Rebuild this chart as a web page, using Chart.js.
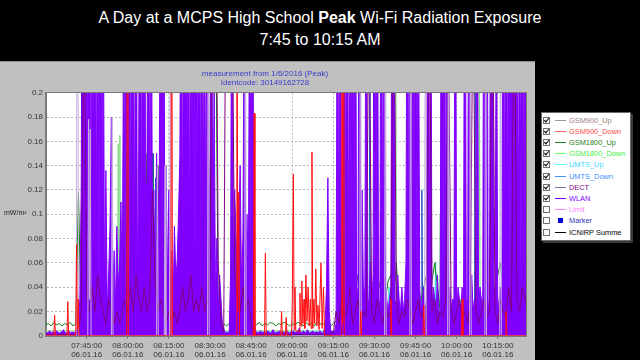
<!DOCTYPE html>
<html>
<head>
<meta charset="utf-8">
<script src="https://cdn.jsdelivr.net/npm/chart.js@4.4.1/dist/chart.umd.min.js"></script>
<style>
  body { margin: 0; width: 640px; height: 360px; background: #000; overflow: hidden; position: relative; font-family: "Liberation Sans", Arial, sans-serif; }
  .head { position: absolute; left: 0; width: 640px; text-align: center; color: #fff; font-size: 16px; line-height: 20px; }
  #panel { position: absolute; left: 0; top: 61px; width: 535px; height: 299px; background: #c0c0c0; border-top: 1px solid #8a8a8a; box-sizing: border-box; }
  #chart { position: absolute; left: 0; top: -1px; }
  #legend { position: absolute; left: 541px; top: 112px; width: 88px; height: 127px; background: #fff; border: 1px solid #6a6a6a; box-shadow: 2px 2px 0 #3a3a3a; }
  .row { position: absolute; left: 0; width: 88px; height: 11px; font-size: 7.4px; line-height: 11px; }
  .box { position: absolute; left: 1px; top: 2px; width: 5px; height: 5px; border: 1px solid #707070; background: #fff; }
  .tick { position: absolute; left: 1px; top: -1px; width: 2px; height: 4px; border-right: 1.3px solid #000; border-bottom: 1.3px solid #000; transform: rotate(40deg); }
  .swatch { position: absolute; left: 13px; top: 5px; width: 11px; height: 1px; }
  .square { position: absolute; left: 16px; top: 3px; width: 5px; height: 5px; }
  .name { position: absolute; left: 27px; top: 0; white-space: nowrap; }
</style>
</head>
<body>
<div class="head" style="top:8px">A Day at a MCPS High School <b>Peak</b> Wi-Fi Radiation Exposure</div>
<div class="head" style="top:30px">7:45 to 10:15 AM</div>
<div id="panel"><canvas id="chart" width="535" height="299"></canvas></div>
<div id="legend"></div>
<script>
// time axis in minutes after 07:30:00, 06.01.16
const dateLabel = "06.01.16";
const tickMinutes = [15, 30, 45, 60, 75, 90, 105, 120, 135, 150, 165];
const tickLabels = ["07:45:00", "08:00:00", "08:15:00", "08:30:00", "08:45:00", "09:00:00",
  "09:15:00", "09:30:00", "09:45:00", "10:00:00", "10:15:00"];
const yTickValues = [0, 0.02, 0.04, 0.06, 0.08, 0.1, 0.12, 0.14, 0.16, 0.18, 0.2];
const yTickLabels = ["0", "0.02", "0.04", "0.06", "0.08", "0.1", "0.12", "0.14", "0.16", "0.18", "0.2"];

// WLAN peak, one value every 30 s (mW/m²)
const wlanStep = 0.5;
const wlan = [
  0.003,0.002, 0.003,0.004, 0.002,0.003, 0.003,0.002, 0.004,0.003, 0.002,0.003, 0.003,0.005, 0.003,0.002, 0.003,0.004, 0.002,0.003,
  0.003,0.002, 0.004,0.003, 0.01,0.03, 0.12,0.45, 0.5,0.04, 0.6,0.08, 0.45,0.03, 0.5,0.12, 0.6,0.05, 0.4,0.02,
  0.55,0.06, 0.35,0.03, 0.136,0.02, 0.05,0.09, 0.18,0.03, 0.07,0.02, 0.09,0.04, 0.06,0.11, 0.03,0.3, 0.05,0.5,
  0.08,0.6, 0.04,0.5, 0.3,0.07, 0.5,0.03, 0.16,0.6, 0.05,0.45, 0.55,0.1, 0.13,0.5, 0.04,0.4, 0.06,0.12,
  0.03,0.15, 0.08,0.14, 0.4,0.05, 0.5,0.06, 0.14,0.04, 0.12,0.03, 0.07,0.02, 0.09,0.05, 0.06,0.1, 0.148,0.4,
  0.05,0.55, 0.6,0.08, 0.5,0.04, 0.45,0.12, 0.6,0.05, 0.4,0.09, 0.5,0.03, 0.55,0.1, 0.3,0.06, 0.45,0.04,
  0.15,0.5, 0.06,0.2, 0.03,0.08, 0.02,0.05, 0.03,0.01, 0.006,0.002, 0.003,0.002, 0.003,0.05, 0.4,0.06, 0.12,0.08,
  0.05,0.09, 0.14,0.04, 0.08,0.3, 0.06,0.1, 0.05,0.35, 0.04,0.5, 0.02,0.004, 0.003,0.002, 0.003,0.004, 0.002,0.003,
  0.003,0.002, 0.004,0.003, 0.002,0.003, 0.005,0.003, 0.002,0.003, 0.003,0.004, 0.002,0.003, 0.003,0.002, 0.004,0.003, 0.002,0.003,
  0.003,0.004, 0.002,0.003, 0.003,0.006, 0.003,0.002, 0.004,0.003, 0.002,0.005, 0.003,0.002, 0.003,0.004, 0.002,0.003, 0.003,0.002,
  0.004,0.003, 0.002,0.003, 0.01,0.04, 0.13,0.02, 0.005,0.003, 0.004,0.003, 0.01,0.4, 0.03,0.5, 0.02,0.08, 0.5,0.03,
  0.6,0.02, 0.35,0.05, 0.5,0.01, 0.45,0.03, 0.04,0.5, 0.02,0.12, 0.03,0.04, 0.4,0.02, 0.03,0.06, 0.02,0.05,
  0.5,0.03, 0.45,0.02, 0.03,0.5, 0.02,0.4, 0.04,0.03, 0.02,0.03, 0.04,0.45, 0.5,0.03, 0.02,0.05, 0.03,0.02,
  0.04,0.02, 0.03,0.06, 0.45,0.03, 0.55,0.02, 0.4,0.05, 0.5,0.02, 0.35,0.04, 0.02,0.03, 0.04,0.02, 0.03,0.45,
  0.03,0.4, 0.02,0.04, 0.03,0.02, 0.05,0.02, 0.02,0.5, 0.03,0.45, 0.02,0.4, 0.03,0.04, 0.02,0.03, 0.03,0.4,
  0.02,0.04, 0.03,0.02, 0.04,0.02, 0.5,0.03, 0.02,0.45, 0.03,0.05, 0.02,0.03, 0.03,0.4, 0.02,0.04, 0.03,0.02,
  0.45,0.03, 0.5,0.02, 0.03,0.55, 0.4,0.04, 0.03,0.3, 0.02,0.03, 0.04,0.02, 0.5,0.03, 0.55,0.06, 0.4,0.03,
  0.6,0.04, 0.45,0.02, 0.5,0.06, 0.35,0.03, 0.5,0.03, 0.4,0.04, 0.3
];

// DECT and GSM1800_Up, one value per minute
const minuteStep = 1;
const dect = [
  0.001,0.001,0.001,0.001,0.001,0.001,0.001,0.001,0.001,0.001,
  0.001,0.001,0.002,0.02,0.3,0.03,0.02,0.04,0.02,0.05,
  0.03,0.02,0.01,0.03,0.02,0.01,0.02,0.01,0.02,0.03,
  0.02,0.04,0.02,0.05,0.03,0.02,0.04,0.02,0.03,0.12,
  0.04,0.02,0.03,0.02,0.01,0.02,0.01,0.02,0.01,0.02,
  0.04,0.02,0.03,0.05,0.02,0.03,0.02,0.04,0.02,0.03,
  0.05,0.35,0.4,0.06,0.01,0.003,0.4,0.45,0.3,0.05,
  0.03,0.02,0.04,0.02,0.03,0.01,0.001,0.001,0.001,0.001,
  0.001,0.001,0.001,0.001,0.001,0.001,0.001,0.001,0.001,0.001,
  0.001,0.001,0.001,0.001,0.001,0.001,0.001,0.001,0.001,0.001,
  0.001,0.001,0.001,0.001,0.001,0.002,0.02,0.01,0.03,0.015,
  0.02,0.04,0.01,0.02,0.03,0.01,0.02,0.015,0.3,0.02,
  0.01,0.03,0.02,0.01,0.025,0.015,0.02,0.35,0.03,0.01,
  0.02,0.015,0.03,0.02,0.01,0.02,0.03,0.015,0.02,0.01,
  0.3,0.02,0.03,0.01,0.02,0.015,0.03,0.25,0.02,0.01,
  0.02,0.03,0.015,0.02,0.01,0.03,0.3,0.02,0.01,0.02,
  0.03,0.015,0.02,0.35,0.02,0.01,0.03,0.02,0.015,0.04,
  0.02,0.3,0.03,0.02,0.04,0.03,0.02
];
const gsm1800Up = [
  0.009,0.01,0.008,0.011,0.009,0.01,0.008,0.01,0.009,0.011,
  0.008,0.01,0.118,0.01,0.012,0.009,0.01,0.011,0.009,0.012,
  0.01,0.009,0.011,0.01,0.009,0.012,0.01,0.011,0.009,0.3,
  0.01,0.012,0.009,0.011,0.01,0.012,0.009,0.15,0.011,0.15,
  0.01,0.14,0.012,0.01,0.009,0.011,0.01,0.009,0.012,0.01,
  0.011,0.009,0.012,0.01,0.011,0.009,0.17,0.01,0.011,0.009,
  0.012,0.01,0.3,0.011,0.009,0.01,0.008,0.01,0.011,0.009,
  0.01,0.008,0.011,0.009,0.01,0.008,0.01,0.009,0.011,0.008,
  0.01,0.009,0.011,0.01,0.008,0.01,0.009,0.011,0.01,0.008,
  0.01,0.009,0.011,0.01,0.008,0.011,0.009,0.01,0.008,0.011,
  0.01,0.009,0.011,0.01,0.008,0.01,0.012,0.015,0.02,0.03,
  0.05,0.04,0.06,0.035,0.05,0.03,0.02,0.015,0.01,0.02,
  0.03,0.05,0.04,0.06,0.03,0.045,0.05,0.03,0.06,0.02,
  0.015,0.02,0.03,0.015,0.02,0.01,0.02,0.03,0.04,0.05,
  0.03,0.045,0.06,0.04,0.02,0.015,0.02,0.01,0.015,0.02,
  0.03,0.02,0.015,0.02,0.03,0.02,0.01,0.015,0.02,0.03,
  0.02,0.015,0.02,0.03,0.04,0.05,0.06,0.04,0.05,0.03,
  0.04,0.06,0.03,0.02,0.015,0.01,0.01
];

// sparse series: [minute, mW/m²]
const gsm900Down = [
  [0,0],[3.0,0],[3.3,0.017],[3.6,0],[7.8,0],[8.1,0.028],[8.4,0],[11.0,0],[11.3,0.075],
  [11.6,0.005],[11.9,0.03],[12.2,0],[29.6,0],[29.9,0.5],[30.2,0],[45.7,0],[46.0,0.4],[46.3,0],
  [69.5,0],[69.8,0.5],[70.1,0.02],[70.5,0.118],[70.8,0],[75.8,0],[76.1,0.183],[76.4,0],
  [79.9,0],[80.2,0.068],[80.5,0],[85.8,0],[86.1,0.02],[86.4,0],[87.5,0],[87.8,0.015],
  [88.1,0],[89.7,0],[90.0,0.025],[90.4,0.133],[90.7,0.005],[91.0,0.04],[91.3,0.004],[92.5,0.003],
  [92.8,0.035],[93.2,0.008],[93.5,0.045],[93.9,0.01],[94.3,0.03],[94.6,0.006],[95.0,0.05],[95.4,0.012],
  [95.8,0.04],[96.2,0.008],[96.6,0.03],[96.9,0.006],[97.2,0.151],[97.5,0.006],[97.9,0.03],[98.2,0.01],
  [98.6,0.055],[99.0,0.008],[99.4,0.025],[99.8,0.005],[100.5,0.06],[100.9,0.006],[101.4,0.04],[101.8,0],
  [107.8,0],[108.1,0.5],[108.4,0.01],[108.7,0.45],[109.0,0],[114.7,0],[115,0.02],[115.3,0],
  [125.7,0],[126,0.03],[126.3,0],[137.7,0],[138,0.025],[138.3,0],[151.7,0],[152,0.03],
  [152.3,0],[167.7,0],[168,0.02],[168.3,0],[176,0]
];
const gsm900Up = [
  [0,0],[11.2,0],[11.6,0.5],[12.0,0],[15.4,0],[15.7,0.178],[16.0,0.03],[16.3,0.17],[16.6,0],
  [24.0,0],[24.3,0.18],[24.6,0],[40.5,0],[40.8,0.14],[41.1,0],[43.3,0],[43.6,0.14],[43.9,0],
  [45.2,0],[45.5,0.3],[45.8,0],[59.1,0],[59.4,0.4],[59.7,0],[72.6,0],[72.9,0.35],[73.2,0],
  [114.6,0],[114.9,0.4],[115.2,0],[123.7,0],[124.0,0.35],[124.3,0],[132.9,0],
  [133.2,0.3],[133.5,0],[138.3,0],[138.6,0.4],[138.9,0],[146.7,0],[147.0,0.35],[147.3,0],
  [154.7,0],[155.0,0.3],[155.3,0],[160.3,0],[160.6,0.4],[160.9,0],[165.7,0],[166.0,0.3],
  [166.3,0],[176,0]
];
const gsm1800Down = [
  [0,0.004],[26.2,0.004],[26.5,0.158],[26.8,0.01],[27.1,0.165],[27.4,0.004],[29.1,0.004],[29.4,0.45],[29.7,0.004],
  [55.7,0.004],[56.0,0.5],[56.3,0.004],[62,0.004],[105,0.004],[112.7,0.004],[113.0,0.12],[113.3,0.004],
  [120.1,0.004],[120.4,0.5],[120.7,0.004],[127.4,0.004],[127.7,0.5],[128.0,0.004],[134.7,0.004],[135.0,0.15],
  [135.3,0.004],[143.7,0.004],[144.0,0.1],[144.3,0.004],[158,0.004],[158.3,0.2],[158.6,0.004],[176,0.004]
];
const umtsUp = [
  [0,0.001],[34.8,0.003],[35.1,0.14],[35.4,0.003],[43.4,0.003],[43.7,0.09],[44.0,0.003],[52,0.003],[52.3,0.06],
  [52.6,0.003],[110,0.003],[110.3,0.05],[110.6,0.003],[125,0.003],[125.3,0.04],[125.6,0.003],[142,0.003],
  [142.3,0.06],[142.6,0.003],[151,0.003],[151.3,0.03],[151.6,0.003],[170,0.003],[170.3,0.04],[170.6,0.003],
  [176,0.001]
];
const umtsDown = [
  [0,0.001],[39.0,0.003],[39.3,0.15],[39.6,0.01],[40.2,0.13],[40.5,0.01],[41.5,0.12],[41.8,0.003],[48.7,0.003],
  [49.0,0.14],[49.3,0.003],[55.1,0.003],[55.4,0.145],[55.7,0.003],[63,0.002],[118,0.002],[118.3,0.2],
  [118.6,0.002],[137,0.002],[137.3,0.12],[137.6,0.002],[156.5,0.002],[156.8,0.3],[157.1,0.002],[176,0.001]
];

// legend of the meter software
const legendNames = ["GSM900_Up", "GSM900_Down", "GSM1800_Up", "GSM1800_Down", "UMTS_Up", "UMTS_Down",
  "DECT", "WLAN", "Limit", "Marker", "ICNIRP Summe"];
const legendText = ["#a08080", "#ff4848", "#208020", "#40f040", "#40d8ff", "#3c90ff",
  "#800080", "#8000ff", "#ff80ff", "#3030c0", "#000000"];
const legendLine = ["#a09898", "#ff6060", "#208020", "#60ff60", "#60ffff", "#4090ff",
  "#9070a0", "#8000ff", "#ff80ff", "#0000e0", "#000000"];
const legendChecked = [true, true, true, true, true, true, true, true, false, false, false];

const legend = document.getElementById("legend");
legendNames.forEach((name, i) => {
  const mark = name === "Marker"
    ? `<span class="square" style="background:${legendLine[i]}"></span>`
    : `<span class="swatch" style="background:${legendLine[i]}"></span>`;
  legend.innerHTML += `
    <div class="row" style="top:${1.5 + i * 11.2}px">
      <span class="box">${legendChecked[i] ? '<span class="tick"></span>' : ""}</span>
      ${mark}
      <span class="name" style="color:${legendText[i]}">${name}</span>
    </div>`;
});

const font = { family: "'Liberation Sans', Arial, sans-serif", size: 8 };

function stepped(values, step) {
  return values.map((y, i) => ({ x: i * step, y: y }));
}
function pairs(list) {
  return list.map(p => ({ x: p[0], y: p[1] }));
}
function series(label, data, color, order, filled) {
  return {
    label: label, data: data, borderColor: color, backgroundColor: color, borderWidth: 1,
    pointRadius: 0, tension: 0, order: order, fill: filled ? "origin" : false
  };
}

const framePlugin = {
  id: "frame",
  beforeDraw(chart) {
    const a = chart.chartArea;
    const c = chart.ctx;
    c.save();
    c.fillStyle = "#ffffff";
    c.fillRect(a.left, a.top, a.right - a.left, a.bottom - a.top);
    c.restore();
  },
  afterDraw(chart) {
    const a = chart.chartArea;
    const c = chart.ctx;
    c.save();
    c.strokeStyle = "#7a7a7a";
    c.lineWidth = 1;
    c.strokeRect(Math.round(a.left) - 0.5, Math.round(a.top) - 0.5, Math.round(a.right - a.left) + 1, Math.round(a.bottom - a.top) + 1);
    c.fillStyle = "#3a3acc";
    c.font = "8px 'Liberation Sans', Arial, sans-serif";
    c.textAlign = "center";
    c.textBaseline = "middle";
    c.fillText("measurement from 1/6/2016 (Peak)", 265, 13);
    c.fillText("Identcode: 30149162728", 265, 22);
    c.fillStyle = "#222";
    c.textAlign = "left";
    c.font = "7px 'Liberation Sans', Arial, sans-serif";
    c.fillText("mW/m²", 4, 152);
    c.restore();
  }
};

new Chart(document.getElementById("chart"), {
  type: "line",
  data: {
    datasets: [
      series("GSM900_Down", pairs(gsm900Down), "#ff1010", 1),
      series("GSM900_Up", pairs(gsm900Up), "#c8aee0", 2),
      series("DECT", stepped(dect, minuteStep), "#800080", 3),
      series("WLAN", stepped(wlan, wlanStep), "#8000ff", 4, true),
      series("GSM1800_Up", stepped(gsm1800Up, minuteStep), "#108010", 5),
      series("UMTS_Down", pairs(umtsDown), "#2050c8", 6),
      series("UMTS_Up", pairs(umtsUp), "#30d8d8", 7),
      series("GSM1800_Down", pairs(gsm1800Down), "#80dc80", 8)
    ]
  },
  options: {
    responsive: false,
    animation: false,
    events: [],
    layout: { padding: { top: 31.7, right: 9, left: 0, bottom: 0 } },
    plugins: { legend: { display: false }, tooltip: { enabled: false } },
    scales: {
      x: {
        type: "linear",
        min: 0.15,
        max: 175.3,
        afterBuildTicks: s => { s.ticks = tickMinutes.map(v => ({ value: v })); },
        afterFit: s => { s.height = 24.3; },
        ticks: {
          autoSkip: false, maxRotation: 0, padding: 2, color: "#333", font: font,
          callback: (v, i) => [tickLabels[i], dateLabel]
        },
        grid: { color: "#b8b8b8", tickColor: "#707070", tickLength: 3, tickBorderDash: [] },
        border: { color: "#7a7a7a", dash: [2, 2] }
      },
      y: {
        min: 0,
        max: 0.2,
        afterBuildTicks: s => { s.ticks = yTickValues.map(v => ({ value: v })); },
        afterFit: s => { s.width = 46; },
        ticks: { padding: 3, color: "#333", font: font, callback: (v, i) => yTickLabels[i] },
        grid: { color: "#b8b8b8", drawTicks: false },
        border: { color: "#7a7a7a", dash: [2, 2] }
      }
    }
  },
  plugins: [framePlugin]
});
</script>
</body>
</html>
